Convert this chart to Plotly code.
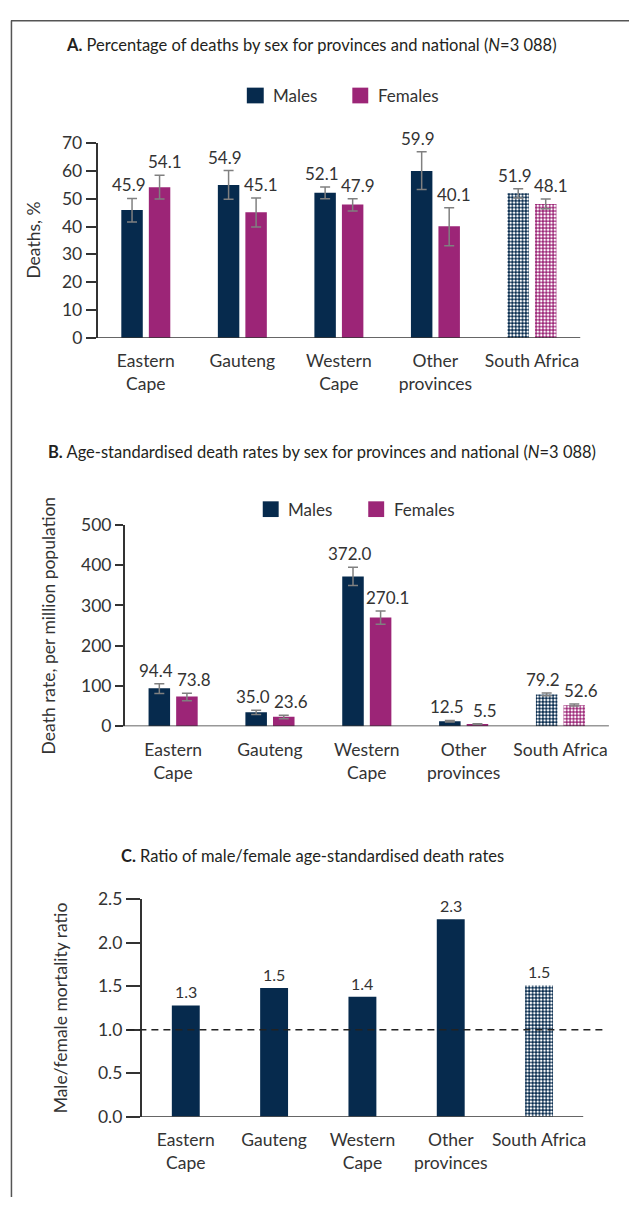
import plotly.graph_objects as go

# ---------------- data ----------------
categories = ["Eastern<br>Cape", "Gauteng", "Western<br>Cape", "Other<br>provinces", "South Africa"]

# Panel A: percentage of deaths by sex
pct_male = [45.9, 54.9, 52.1, 59.9, 51.9]
pct_male_lo = [41.6, 49.8, 50.0, 53.3, 50.2]
pct_male_hi = [50.1, 60.1, 54.2, 66.8, 53.6]
pct_female = [54.1, 45.1, 47.9, 40.1, 48.1]
pct_female_lo = [49.9, 39.8, 45.6, 33.1, 46.4]
pct_female_hi = [58.4, 50.2, 50.0, 46.7, 49.9]

# Panel B: age-standardised death rates per million
rate_male = [94.4, 35.0, 372.0, 12.5, 79.2]
rate_male_lo = [81.3, 29.3, 349.6, 10.5, 76.0]
rate_male_hi = [105.6, 39.8, 395.0, 14.5, 83.0]
rate_female = [73.8, 23.6, 270.1, 5.5, 52.6]
rate_female_lo = [63.4, 18.7, 253.7, 4.5, 50.4]
rate_female_hi = [82.1, 27.6, 286.0, 6.5, 55.3]

# Panel C: male/female ratio
ratio = [1.28, 1.48, 1.38, 2.27, 1.51]

ticks_a = [0, 10, 20, 30, 40, 50, 60, 70]
ticks_b = [0, 100, 200, 300, 400, 500]
ticks_c = [0.0, 0.5, 1.0, 1.5, 2.0, 2.5]

# ---------------- style ----------------
NAVY = "#062a4d"
MAG = "#9c2577"
TXT = "#333333"
AX = "#333333"
ERR = "#808080"
FONT = "Lato"
W, H = 632, 1207

def fx(px):
    return px / W

def fy(py):
    return 1 - py / H

# national bars drawn with a fine checked pattern
pattern_shapes = ["", "", "", "", "."]

def pat():
    return dict(shape=pattern_shapes, fillmode="overlay", fgcolor="white", fgopacity=1,
                size=3.4, solidity=0.45)

fig = go.Figure()

def add_pair(xa, ya, m, mlo, mhi, f, flo, fhi):
    for name, vals, lo, hi, col in [("Males", m, mlo, mhi, NAVY), ("Females", f, flo, fhi, MAG)]:
        fig.add_trace(go.Bar(
            x=categories, y=vals, name=name, xaxis=xa, yaxis=ya, showlegend=False,
            marker=dict(color=col, line=dict(width=0), pattern=pat()),
            error_y=dict(type="data", symmetric=False,
                         array=[h - v for h, v in zip(hi, vals)],
                         arrayminus=[v - l for v, l in zip(vals, lo)],
                         color=ERR, thickness=1.5, width=5),
            hoverinfo="skip",
        ))

add_pair("x", "y", pct_male, pct_male_lo, pct_male_hi, pct_female, pct_female_lo, pct_female_hi)
add_pair("x2", "y2", rate_male, rate_male_lo, rate_male_hi, rate_female, rate_female_lo, rate_female_hi)

fig.add_trace(go.Bar(
    x=categories, y=ratio, xaxis="x3", yaxis="y3", showlegend=False, width=0.316,
    marker=dict(color=NAVY, line=dict(width=0), pattern=pat()), hoverinfo="skip",
))

annotations = []

def value_labels(xref, yref, vals, tops, shift, size=17):
    for c, v, t in zip(categories, vals, tops):
        annotations.append(dict(
            x=c, y=t, xref=xref, yref=yref, text=f"{v:.1f}", showarrow=False,
            xshift=shift, yshift=13.5, yanchor="middle",
            font=dict(family=FONT, size=size, color=TXT)))

value_labels("x", "y", pct_male, pct_male_hi, -17)
value_labels("x", "y", pct_female, pct_female_hi, 19)
value_labels("x2", "y2", rate_male, rate_male_hi, -17)
value_labels("x2", "y2", rate_female, rate_female_hi, 21)
value_labels("x3", "y3", ratio, ratio, 0, size=16)

titles = [
    ("<b>A.</b> Percentage of deaths by sex for provinces and national (<i>N</i>=3 088)", 312.5, 35),
    ("<b>B.</b> Age-standardised death rates by sex for provinces and national (<i>N</i>=3 088)", 323.7, 449.3),
    ("<b>C.</b> Ratio of male/female age-standardised death rates", 314, 860),
]
for t, x, y in titles:
    annotations.append(dict(x=fx(x), y=fy(y), xref="paper", yref="paper", text=t,
                            showarrow=False, xanchor="center", yanchor="middle",
                            font=dict(family=FONT, size=16.5, color="#231f20")))

ytitles = [("Deaths, %", 33.3, 233.5), ("Death rate, per million population", 49, 625.5),
           ("Male/female mortality ratio", 61.7, 1014.6)]
for t, x, y in ytitles:
    annotations.append(dict(x=fx(x), y=fy(y), xref="paper", yref="paper", text=t,
                            showarrow=False, textangle=-90, xanchor="center", yanchor="middle",
                            font=dict(family=FONT, size=17.5, color=TXT)))

# manual legends
shapes = []
legends = [(248, 265, 78, 94, NAVY, "Males", 272), (354, 370, 78, 94, MAG, "Females", 378),
           (264, 280, 499, 515, NAVY, "Males", 287), (370, 386, 499, 515, MAG, "Females", 394)]
for x0, x1, y0, y1, col, txt, tx in legends:
    shapes.append(dict(type="rect", xref="paper", yref="paper", x0=fx(x0), x1=fx(x1),
                       y0=fy(y1), y1=fy(y0), fillcolor=col, line=dict(width=0)))
    annotations.append(dict(x=fx(tx), y=fy((y0 + y1) / 2), xref="paper", yref="paper", text=txt,
                            showarrow=False, xanchor="left", yanchor="middle",
                            font=dict(family=FONT, size=17, color=TXT)))

# baselines extending left to tick start
for yref, x0, x1 in [("y", 88, 583), ("y2", 117, 611.8), ("y3", 128, 586)]:
    shapes.append(dict(type="line", xref="paper", yref=yref, x0=fx(x0), x1=fx(x1), y0=0, y1=0,
                       line=dict(color=AX, width=1.5)))
# reference line at ratio 1
shapes.append(dict(type="line", xref="paper", yref="y3", x0=fx(128), x1=fx(607), y0=1, y1=1,
                   line=dict(color="#222222", width=1.5, dash="7px,5px")))
# frame
shapes.append(dict(type="line", xref="paper", yref="paper", x0=fx(11), x1=1.0, y0=fy(10), y1=fy(10),
                   line=dict(color="#555555", width=1.5)))
shapes.append(dict(type="line", xref="paper", yref="paper", x0=fx(11.5), x1=fx(11.5), y0=fy(10), y1=0,
                   line=dict(color="#555555", width=1.5)))

def xaxis(dom, anchor):
    return dict(domain=dom, anchor=anchor, type="category", showline=False, showgrid=False,
                zeroline=False, ticks="", ticklabelstandoff=11,
                tickfont=dict(family=FONT, size=17.5, color=TXT), fixedrange=True)

def yaxis(dom, anchor, rng, tv, ticklen, fmt=None):
    d = dict(domain=dom, anchor=anchor, range=rng, tickvals=tv, showline=True, linecolor=AX,
             linewidth=1.5, ticks="outside", ticklen=ticklen, tickwidth=1.5, tickcolor=AX,
             showgrid=False, zeroline=False, fixedrange=True,
             tickfont=dict(family=FONT, size=17.5, color=TXT))
    if fmt:
        d["tickformat"] = fmt
    return d

fig.update_layout(
    width=W, height=H, margin=dict(l=0, r=0, t=0, b=0),
    paper_bgcolor="white", plot_bgcolor="white",
    barmode="group", bargap=0.43, bargroupgap=0.22,
    showlegend=False,
    font=dict(family=FONT, color=TXT),
    xaxis=xaxis([fx(98), fx(583)], "y"),
    yaxis=yaxis([fy(332.7), fy(134.3)], "x", [0, 70], ticks_a, 10),
    xaxis2=xaxis([fx(125.3), fx(611.8)], "y2"),
    yaxis2=yaxis([fy(728), fy(523)], "x2", [0, 500], ticks_b, 8),
    xaxis3=xaxis([fx(142.3), fx(586)], "y3"),
    yaxis3=yaxis([fy(1125.3), fy(904)], "x3", [0, 2.5], ticks_c, 14, ".1f"),
    annotations=annotations,
    shapes=shapes,
)

fig.write_html("out.html", config={"displayModeBar": False},
               post_script="document.body.style.margin='0';document.body.style.overflow='hidden';")
